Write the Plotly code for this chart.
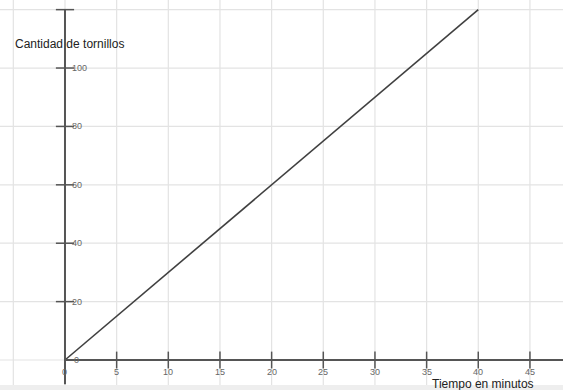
import plotly.graph_objects as go

# Data
tiempo = [0, 40]
tornillos = [0, 120]
x_ticks = [0, 5, 10, 15, 20, 25, 30, 35, 40, 45]
x_tick_labels = ["0", "5", "10", "15", "20", "25", "30", "35", "40", "45"]
y_ticks = [20, 40, 60, 80, 100, 120]
y_tick_labels = ["20", "40", "60", "80", "100", ""]
x_grid = [-5, 0, 5, 10, 15, 20, 25, 30, 35, 40, 45]
y_grid = [0, 20, 40, 60, 80, 100, 120]

W, H = 563, 390
xr = [-6.29, 48.2]
yr = [-10.27, 123.3]

axis_col = "#555555"
grid_col = "#e3e3e3"
font = "Liberation Sans, Arial, sans-serif"

fig = go.Figure()

# main line
fig.add_trace(go.Scatter(x=tiempo, y=tornillos, mode="lines",
                         line=dict(color="#404040", width=1.6),
                         hoverinfo="skip", showlegend=False))

# tick marks crossing axes
fig.add_trace(go.Scatter(x=x_ticks[1:], y=[0] * (len(x_ticks) - 1), mode="markers",
                         marker=dict(symbol="line-ns", size=12,
                                     line=dict(color=axis_col, width=1.5)),
                         hoverinfo="skip", showlegend=False))
fig.add_trace(go.Scatter(x=[0] * len(y_ticks), y=y_ticks, mode="markers",
                         marker=dict(symbol="line-ew", size=13,
                                     line=dict(color=axis_col, width=1.5)),
                         hoverinfo="skip", showlegend=False))

shapes = []
for gx in x_grid:
    shapes.append(dict(type="line", xref="x", yref="paper", x0=gx, x1=gx, y0=0, y1=1,
                       line=dict(color=grid_col, width=1.2), layer="below"))
for gy in y_grid:
    shapes.append(dict(type="line", xref="paper", yref="y", x0=0, x1=1, y0=gy, y1=gy,
                       line=dict(color=grid_col, width=1.2), layer="below"))
# axes
shapes.append(dict(type="line", xref="x", yref="y", x0=0, x1=0, y0=yr[0] + 2, y1=y_ticks[-1],
                   line=dict(color=axis_col, width=2)))
shapes.append(dict(type="line", xref="x", yref="y", x0=0, x1=xr[1], y0=0, y1=0,
                   line=dict(color=axis_col, width=2)))
# bottom band
shapes.append(dict(type="rect", xref="paper", yref="paper", x0=0, x1=1, y0=0, y1=5 / H,
                   fillcolor="#eeeeee", line=dict(width=0), layer="above"))

annotations = []
for v, t in zip(x_ticks, x_tick_labels):
    annotations.append(dict(x=v, y=0, xref="x", yref="y", text=t, showarrow=False,
                            xanchor="center", yanchor="middle", yshift=-12,
                            font=dict(family=font, size=9, color="#666666")))
for v, t in zip(y_ticks, y_tick_labels):
    if t:
        annotations.append(dict(x=0, y=v, xref="x", yref="y", text=t, showarrow=False,
                                xanchor="left", yanchor="middle", xshift=5,
                                font=dict(family=font, size=9, color="#666666")))
annotations.append(dict(x=0, y=0, xref="x", yref="y", text="0", showarrow=False,
                        xanchor="left", yanchor="middle", xshift=7,
                        font=dict(family=font, size=9, color="#666666")))
annotations.append(dict(x=13 / W, y=1 - 44 / H, xref="paper", yref="paper",
                        text="Cantidad de tornillos", showarrow=False,
                        xanchor="left", yanchor="middle",
                        font=dict(family=font, size=12, color="#222222")))
annotations.append(dict(x=430 / W, y=1 - 383.5 / H, xref="paper", yref="paper",
                        text="Tiempo en minutos", showarrow=False,
                        xanchor="left", yanchor="middle",
                        font=dict(family=font, size=12, color="#222222")))

fig.update_layout(
    width=W, height=H,
    margin=dict(l=0, r=0, t=0, b=0),
    paper_bgcolor="white", plot_bgcolor="white",
    xaxis=dict(range=xr, showgrid=False, zeroline=False, showticklabels=False,
               ticks="", fixedrange=True),
    yaxis=dict(range=yr, showgrid=False, zeroline=False, showticklabels=False,
               ticks="", fixedrange=True),
    shapes=shapes, annotations=annotations,
)

fig.write_html("out.html", config={"displayModeBar": False},
               post_script="document.body.style.margin='0';document.body.style.overflow='hidden';")
